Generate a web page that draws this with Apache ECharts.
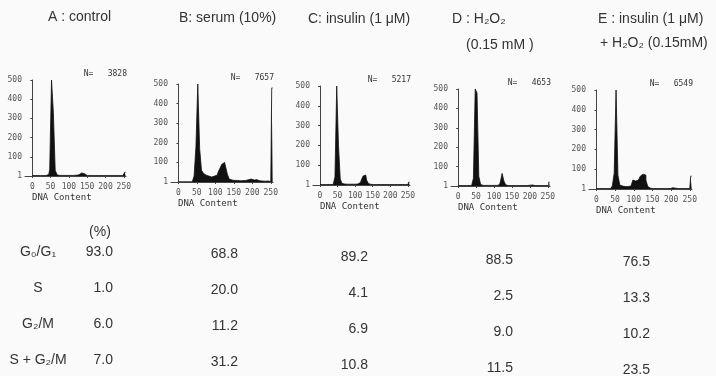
<!DOCTYPE html>
<html>
<head>
<meta charset="utf-8">
<title>DNA content</title>
<script src="https://cdn.jsdelivr.net/npm/echarts@6/dist/echarts.min.js"></script>
<style>
  html, body { margin: 0; padding: 0; background: #fafafa; }
  #main { width: 716px; height: 376px; }
</style>
</head>
<body>
<div id="main"></div>
<script>
// histogram counts, one value per 5 channels (0,5,...,255); last one is the off-scale channel
var histA = [2,2,2,2,2,2,2,2,3,8, 35,500,330,30,6,3,3,3,3,3, 3,3,3,3,4,6,12,16,12,5,
             2,2,2,2,2,2,2,2,2,2, 2,2,2,2,2,2,2,2,2,2, 2,20];
var histB = [1,1,1,1,1,1,1,1,2,30, 180,500,170,60,45,35,30,28,25,30, 28,35,50,70,90,100,80,40,15,10,
             8,6,8,6,5,7,8,10,12,15, 12,10,12,8,6,5,6,4,5,4, 3,480];
var histC = [2,2,2,2,2,2,2,3,10,40, 500,200,30,8,5,4,4,4,4,4, 4,5,8,12,25,45,50,25,8,3,
             2,2,2,2,2,2,2,2,2,2, 2,2,2,2,2,2,2,2,2,2, 2,15];
var histD = [2,2,2,2,2,2,2,2,5,40, 500,480,50,8,3,3,3,3,3,3, 3,3,3,6,20,65,25,6,2,2,
             2,2,2,2,2,2,2,2,2,2, 4,5,3,2,2,2,2,2,2,2, 2,20];
var histE = [2,2,2,2,2,2,2,2,2,15, 80,500,70,20,15,12,10,12,15,25, 45,40,45,55,65,75,70,45,12,4,
             2,2,2,2,2,2,2,2,2,2, 4,6,4,3,2,2,2,2,2,2, 2,65];

var panelTitles = [
  ['A : control'],
  ['B: serum (10%)'],
  ['C: insulin (1 μM)'],
  ['D : H₂O₂', '(0.15 mM )'],
  ['E : insulin (1 μM)', '+ H₂O₂ (0.15mM)']
];
var cellCounts = [3828, 7657, 5217, 4653, 6549];

var phaseNames = ['G₀/G₁', 'S', 'G₂/M', 'S + G₂/M'];
var pctA = [93.0, 1.0, 6.0, 7.0];
var pctB = [68.8, 20.0, 11.2, 31.2];
var pctC = [89.2, 4.1, 6.9, 10.8];
var pctD = [88.5, 2.5, 9.0, 11.5];
var pctE = [76.5, 13.3, 10.2, 23.5];

var xTicks = [0, 50, 100, 150, 200, 250];
var yTicks = [0, 100, 200, 300, 400, 500];
var yTickLabels = ['1', '100', '200', '300', '400', '500'];

// layout
var grids = [
  {left: 25,  top: 80, width: 101, height: 96},
  {left: 171, top: 84, width: 102, height: 98},
  {left: 313, top: 86, width: 97,  height: 99},
  {left: 451, top: 89, width: 99,  height: 97},
  {left: 589, top: 90, width: 103, height: 99}
];
var titlePos = [[48, 17], [179, 18], [308, 19], [452, 19], [598, 19]];
var title2Pos = [null, null, null, [466, 45], [600, 43]];
var colRight = [113, 238, 368, 513, 650];
var colShift = [-2, 0, 3, 6, 8];
var rowY = [254, 290, 326, 362];

var ink = '#333';
var mono = '"DejaVu Sans Mono", monospace';
var sans = '"Liberation Sans", Arial, sans-serif';

var hists = [histA, histB, histC, histD, histE];
var pcts = [pctA, pctB, pctC, pctD, pctE];

function txt(x, y, s, font, align) {
  return {
    type: 'text', x: x, y: y, silent: true,
    style: {
      text: s, font: font, fill: ink,
      align: align || 'left', verticalAlign: 'middle',
      textAlign: align || 'left', textVerticalAlign: 'middle'
    }
  };
}

var graphics = [];
panelTitles.forEach(function (t, k) {
  graphics.push(txt(titlePos[k][0], titlePos[k][1], t[0], '14px ' + sans));
  if (t[1]) graphics.push(txt(title2Pos[k][0], title2Pos[k][1], t[1], '14px ' + sans));
  var g = grids[k];
  graphics.push(txt(g.left + g.width + 1, g.top - 6, 'N=   ' + cellCounts[k], '8px ' + mono, 'right'));
  graphics.push(txt(g.left + 7, g.top + g.height + 22, 'DNA Content', '9px ' + mono));
});
graphics.push(txt(100, 232, '(%)', '14px ' + sans, 'center'));
phaseNames.forEach(function (p, r) {
  graphics.push(txt(38, rowY[r] + colShift[0], p, '14px ' + sans, 'center'));
  pcts.forEach(function (col, k) {
    graphics.push(txt(colRight[k], rowY[r] + colShift[k], col[r].toFixed(1), '14px ' + sans, 'right'));
  });
});

var axisCol = '#444';
var option = {
  backgroundColor: '#fafafa',
  animation: false,
  grid: grids,
  xAxis: grids.map(function (g, k) {
    return {
      type: 'value', gridIndex: k, min: -20, max: 256,
      splitLine: {show: false},
      axisLine: {lineStyle: {color: axisCol, width: 1}},
      axisTick: {customValues: xTicks, length: 2, lineStyle: {color: axisCol}},
      axisLabel: {customValues: xTicks, fontFamily: mono, fontSize: 8, color: '#555', margin: 7}
    };
  }),
  yAxis: grids.map(function (g, k) {
    return {
      type: 'value', gridIndex: k, min: 0, max: 500, interval: 100,
      splitLine: {show: false},
      axisLine: {show: true, lineStyle: {color: axisCol, width: 1}},
      axisTick: {show: true, length: 2, lineStyle: {color: axisCol}},
      axisLabel: {
        fontFamily: mono, fontSize: 8, color: '#555', margin: 3,
        formatter: function (v) { return yTickLabels[yTicks.indexOf(v)]; }
      }
    };
  }),
  series: hists.map(function (h, k) {
    return {
      type: 'line', xAxisIndex: k, yAxisIndex: k,
      step: 'middle', symbol: 'none',
      data: h.map(function (v, i) { return [i * 5, v]; }),
      lineStyle: {color: '#111', width: 0.8},
      areaStyle: {color: '#111', opacity: 1}
    };
  }),
  graphic: graphics
};

var myChart = echarts.init(document.getElementById('main'));
myChart.setOption(option);
</script>
</body>
</html>
